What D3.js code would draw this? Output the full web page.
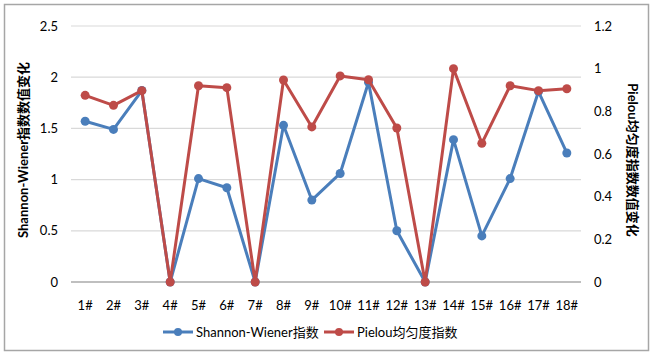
<!DOCTYPE html>
<html>
<head>
<meta charset="utf-8">
<script src="https://cdn.jsdelivr.net/npm/d3@7"></script>
<style>
  body { margin: 0; background: #fff; }
  svg { display: block; font-family: Lato, "Noto Sans CJK SC", sans-serif; }
</style>
</head>
<body>
<div id="chart"></div>
<script>
// data
const sites = ['1#','2#','3#','4#','5#','6#','7#','8#','9#','10#','11#','12#','13#','14#','15#','16#','17#','18#'];
const shannon = [1.57, 1.49, 1.87, 0, 1.01, 0.92, 0, 1.53, 0.80, 1.06, 1.95, 0.50, 0, 1.39, 0.45, 1.01, 1.86, 1.26];
const pielou = [0.875, 0.828, 0.897, 0, 0.92, 0.911, 0, 0.947, 0.727, 0.966, 0.948, 0.722, 0, 1.0, 0.65, 0.92, 0.897, 0.906];
const leftTicks = [0, 0.5, 1, 1.5, 2, 2.5];
const rightTicks = [0, 0.2, 0.4, 0.6, 0.8, 1, 1.2];
const seriesNames = ['Shannon-Wiener指数', 'Pielou均匀度指数'];
const colors = ['#4a7ebb', '#be4b48'];

const W = 652, H = 354;
const plot = {left: 71, right: 581, top: 26, bottom: 282};

const svg = d3.select('#chart').append('svg')
    .attr('width', W).attr('height', H);

// outer frame
svg.append('rect')
    .attr('x', 4.5).attr('y', 4.5).attr('width', 644).attr('height', 346)
    .attr('fill', '#fff').attr('stroke', '#a6a6a6').attr('stroke-width', 1.5);

const x = d3.scaleBand().domain(sites).range([plot.left, plot.right]);
const yL = d3.scaleLinear().domain([0, 2.5]).range([plot.bottom, plot.top]);
const yR = d3.scaleLinear().domain([0, 1.2]).range([plot.bottom, plot.top]);

// gridlines
svg.append('g').selectAll('line')
    .data(leftTicks)
    .join('line')
      .attr('x1', plot.left).attr('x2', plot.right)
      .attr('y1', d => yL(d)).attr('y2', d => yL(d))
      .attr('stroke', d => d === 0 ? '#bfbfbf' : '#d9d9d9')
      .attr('stroke-width', d => d === 0 ? 2 : 1.2);

// left axis labels
svg.append('g').selectAll('text')
    .data(leftTicks)
    .join('text')
      .attr('x', 58).attr('y', d => yL(d))
      .attr('dy', '0.35em')
      .attr('text-anchor', 'end')
      .attr('font-size', 13).attr('fill', '#000')
      .text(d => d);

// right axis labels
svg.append('g').selectAll('text')
    .data(rightTicks)
    .join('text')
      .attr('x', 594).attr('y', d => yR(d))
      .attr('dy', '0.35em')
      .attr('text-anchor', 'start')
      .attr('font-size', 13).attr('fill', '#000')
      .text(d => d);

// category labels
svg.append('g').selectAll('text')
    .data(sites)
    .join('text')
      .attr('x', d => x(d) + x.bandwidth() / 2).attr('y', 305)
      .attr('dy', '0.35em')
      .attr('text-anchor', 'middle')
      .attr('font-size', 13).attr('fill', '#000')
      .text(d => d);

// axis titles
svg.append('text')
    .attr('transform', 'translate(23,150) rotate(-90)')
    .attr('text-anchor', 'middle').attr('dy', '0.35em')
    .attr('font-size', 13).attr('font-weight', 'bold')
    .text('Shannon-Wiener指数数值变化');
svg.append('text')
    .attr('transform', 'translate(633,160) rotate(90)')
    .attr('text-anchor', 'middle').attr('dy', '0.35em')
    .attr('font-size', 13).attr('font-weight', 'bold')
    .text('Pielou均匀度指数数值变化');

function drawSeries(values, yScale, color) {
    const line = d3.line()
        .x((d, i) => x(sites[i]) + x.bandwidth() / 2)
        .y(d => yScale(d));
    const g = svg.append('g');
    g.append('path')
        .datum(values)
        .attr('d', line)
        .attr('fill', 'none')
        .attr('stroke', color)
        .attr('stroke-width', 3)
        .attr('stroke-linejoin', 'round');
    g.selectAll('circle')
        .data(values)
        .join('circle')
          .attr('cx', (d, i) => x(sites[i]) + x.bandwidth() / 2)
          .attr('cy', d => yScale(d))
          .attr('r', 4.5)
          .attr('fill', color);
}

drawSeries(shannon, yL, colors[0]);
drawSeries(pielou, yR, colors[1]);

// legend
const legendX = [163, 324];
const legend = svg.append('g').selectAll('g')
    .data(seriesNames)
    .join('g')
      .attr('transform', (d, i) => `translate(${legendX[i]},332)`);
legend.append('line')
    .attr('x1', 0).attr('x2', 30)
    .attr('stroke', (d, i) => colors[i]).attr('stroke-width', 3);
legend.append('circle')
    .attr('cx', 15).attr('r', 4)
    .attr('fill', (d, i) => colors[i]);
legend.append('text')
    .attr('x', 33).attr('dy', '0.35em')
    .attr('font-size', 13)
    .text(d => d);
</script>
</body>
</html>
